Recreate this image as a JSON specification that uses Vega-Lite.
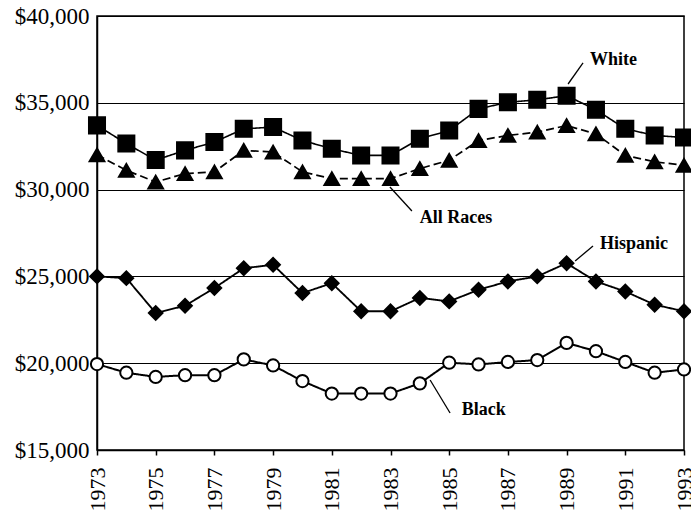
{
  "$schema": "https://vega.github.io/schema/vega-lite/v6.json",
  "width": 587,
  "height": 434,
  "autosize": "none",
  "padding": {"left": 97, "top": 16, "right": 7, "bottom": 69},
  "background": "white",
  "config": {
    "view": {"stroke": "black", "strokeWidth": 1.5},
    "font": "Liberation Serif",
    "axis": {
      "labelFont": "Liberation Serif",
      "labelColor": "black",
      "domainColor": "black",
      "tickColor": "black",
      "gridColor": "black",
      "title": null
    }
  },
  "datasets": {
    "income": [
      {"year": 1973, "series": "White", "value": 33700},
      {"year": 1974, "series": "White", "value": 32650},
      {"year": 1975, "series": "White", "value": 31700},
      {"year": 1976, "series": "White", "value": 32260},
      {"year": 1977, "series": "White", "value": 32740},
      {"year": 1978, "series": "White", "value": 33500},
      {"year": 1979, "series": "White", "value": 33600},
      {"year": 1980, "series": "White", "value": 32830},
      {"year": 1981, "series": "White", "value": 32350},
      {"year": 1982, "series": "White", "value": 31970},
      {"year": 1983, "series": "White", "value": 31970},
      {"year": 1984, "series": "White", "value": 32930},
      {"year": 1985, "series": "White", "value": 33400},
      {"year": 1986, "series": "White", "value": 34650},
      {"year": 1987, "series": "White", "value": 35030},
      {"year": 1988, "series": "White", "value": 35170},
      {"year": 1989, "series": "White", "value": 35410},
      {"year": 1990, "series": "White", "value": 34600},
      {"year": 1991, "series": "White", "value": 33500},
      {"year": 1992, "series": "White", "value": 33120},
      {"year": 1993, "series": "White", "value": 33000},
      {"year": 1973, "series": "All Races", "value": 32000},
      {"year": 1974, "series": "All Races", "value": 31110},
      {"year": 1975, "series": "All Races", "value": 30440},
      {"year": 1976, "series": "All Races", "value": 30920},
      {"year": 1977, "series": "All Races", "value": 31020},
      {"year": 1978, "series": "All Races", "value": 32260},
      {"year": 1979, "series": "All Races", "value": 32160},
      {"year": 1980, "series": "All Races", "value": 31020},
      {"year": 1981, "series": "All Races", "value": 30630},
      {"year": 1982, "series": "All Races", "value": 30630},
      {"year": 1983, "series": "All Races", "value": 30630},
      {"year": 1984, "series": "All Races", "value": 31210},
      {"year": 1985, "series": "All Races", "value": 31690},
      {"year": 1986, "series": "All Races", "value": 32830},
      {"year": 1987, "series": "All Races", "value": 33120},
      {"year": 1988, "series": "All Races", "value": 33310},
      {"year": 1989, "series": "All Races", "value": 33690},
      {"year": 1990, "series": "All Races", "value": 33210},
      {"year": 1991, "series": "All Races", "value": 31970},
      {"year": 1992, "series": "All Races", "value": 31600},
      {"year": 1993, "series": "All Races", "value": 31400},
      {"year": 1973, "series": "Hispanic", "value": 25000},
      {"year": 1974, "series": "Hispanic", "value": 24900},
      {"year": 1975, "series": "Hispanic", "value": 22890},
      {"year": 1976, "series": "Hispanic", "value": 23310},
      {"year": 1977, "series": "Hispanic", "value": 24330},
      {"year": 1978, "series": "Hispanic", "value": 25470},
      {"year": 1979, "series": "Hispanic", "value": 25670},
      {"year": 1980, "series": "Hispanic", "value": 24040},
      {"year": 1981, "series": "Hispanic", "value": 24610},
      {"year": 1982, "series": "Hispanic", "value": 22990},
      {"year": 1983, "series": "Hispanic", "value": 22990},
      {"year": 1984, "series": "Hispanic", "value": 23760},
      {"year": 1985, "series": "Hispanic", "value": 23560},
      {"year": 1986, "series": "Hispanic", "value": 24230},
      {"year": 1987, "series": "Hispanic", "value": 24710},
      {"year": 1988, "series": "Hispanic", "value": 25000},
      {"year": 1989, "series": "Hispanic", "value": 25760},
      {"year": 1990, "series": "Hispanic", "value": 24710},
      {"year": 1991, "series": "Hispanic", "value": 24130},
      {"year": 1992, "series": "Hispanic", "value": 23370},
      {"year": 1993, "series": "Hispanic", "value": 22990},
      {"year": 1973, "series": "Black", "value": 19950},
      {"year": 1974, "series": "Black", "value": 19450},
      {"year": 1975, "series": "Black", "value": 19210},
      {"year": 1976, "series": "Black", "value": 19310},
      {"year": 1977, "series": "Black", "value": 19310},
      {"year": 1978, "series": "Black", "value": 20220},
      {"year": 1979, "series": "Black", "value": 19870},
      {"year": 1980, "series": "Black", "value": 18970},
      {"year": 1981, "series": "Black", "value": 18250},
      {"year": 1982, "series": "Black", "value": 18250},
      {"year": 1983, "series": "Black", "value": 18250},
      {"year": 1984, "series": "Black", "value": 18840},
      {"year": 1985, "series": "Black", "value": 20030},
      {"year": 1986, "series": "Black", "value": 19930},
      {"year": 1987, "series": "Black", "value": 20070},
      {"year": 1988, "series": "Black", "value": 20180},
      {"year": 1989, "series": "Black", "value": 21170},
      {"year": 1990, "series": "Black", "value": 20690},
      {"year": 1991, "series": "Black", "value": 20070},
      {"year": 1992, "series": "Black", "value": 19450},
      {"year": 1993, "series": "Black", "value": 19640}
    ],
    "labels": [
      {"label": "White", "year": 1989.8, "value": 37465},
      {"label": "All Races", "year": 1984.0, "value": 28364},
      {"label": "Hispanic", "year": 1990.14, "value": 26866},
      {"label": "Black", "year": 1985.43, "value": 17304}
    ],
    "leaders": [
      {"label": "White", "year": 1989.05, "value": 36083, "year2": 1989.56, "value2": 37293},
      {"label": "All Races", "year": 1982.98, "value": 30150, "year2": 1983.73, "value2": 28767},
      {"label": "Hispanic", "year": 1989.29, "value": 25887, "year2": 1989.9, "value2": 26751},
      {"label": "Black", "year": 1984.35, "value": 19032, "year2": 1985.03, "value2": 17131}
    ]
  },
  "layer": [
    {
      "data": {"name": "income"},
      "mark": {"type": "line", "color": "black"},
      "encoding": {
        "x": {
          "field": "year", "type": "quantitative",
          "scale": {"domain": [1973, 1993], "nice": false, "zero": false},
          "axis": {
            "values": [1973,1974,1975,1976,1977,1978,1979,1980,1981,1982,1983,1984,1985,1986,1987,1988,1989,1990,1991,1992,1993],
            "labelExpr": "(datum.value - 1973) % 2 == 0 ? format(datum.value, 'd') : ''",
            "labelAngle": -90,
            "labelAlign": "right",
            "labelBaseline": "middle",
            "labelFontSize": 22,
            "labelPadding": 12,
            "tickSize": 5,
            "tickWidth": 1.5,
            "domainWidth": 1.5,
            "grid": false,
            "labelOverlap": false
          }
        },
        "y": {
          "field": "value", "type": "quantitative",
          "scale": {"domain": [15000, 40000], "nice": false, "zero": false},
          "axis": {
            "values": [15000, 20000, 25000, 30000, 35000, 40000],
            "format": "$,d",
            "labelFontSize": 23,
            "labelPadding": 8,
            "tickSize": 0,
            "domainWidth": 1.5,
            "grid": true,
            "gridWidth": 1.2,
            "gridOpacity": 1
          }
        },
        "detail": {"field": "series"},
        "strokeDash": {
          "field": "series", "type": "nominal",
          "scale": {"domain": ["White", "All Races", "Hispanic", "Black"], "range": [[1, 0], [8, 4], [1, 0], [1, 0]]},
          "legend": null
        },
        "strokeWidth": {
          "field": "series", "type": "nominal",
          "scale": {"domain": ["White", "All Races", "Hispanic", "Black"], "range": [1.6, 2, 4.5, 2.8]},
          "legend": null
        }
      }
    },
    {
      "data": {"name": "income"},
      "mark": {"type": "point", "filled": true, "stroke": "black", "opacity": 1},
      "encoding": {
        "x": {"field": "year", "type": "quantitative"},
        "y": {"field": "value", "type": "quantitative"},
        "shape": {
          "field": "series", "type": "nominal",
          "scale": {"domain": ["White", "All Races", "Hispanic", "Black"], "range": ["square", "triangle-up", "diamond", "circle"]},
          "legend": null
        },
        "size": {
          "field": "series", "type": "nominal",
          "scale": {"domain": ["White", "All Races", "Hispanic", "Black"], "range": [270, 150, 55, 70]},
          "legend": null
        },
        "fill": {
          "field": "series", "type": "nominal",
          "scale": {"domain": ["White", "All Races", "Hispanic", "Black"], "range": ["black", "black", "black", "white"]},
          "legend": null
        },
        "strokeWidth": {
          "field": "series", "type": "nominal",
          "scale": {"domain": ["White", "All Races", "Hispanic", "Black"], "range": [0, 0, 0, 2.4]},
          "legend": null
        }
      }
    },
    {
      "data": {"name": "leaders"},
      "mark": {"type": "rule", "color": "black", "strokeWidth": 1.3},
      "encoding": {
        "x": {"field": "year", "type": "quantitative"},
        "y": {"field": "value", "type": "quantitative"},
        "x2": {"field": "year2"},
        "y2": {"field": "value2"}
      }
    },
    {
      "data": {"name": "labels"},
      "mark": {"type": "text", "align": "left", "baseline": "middle", "font": "Liberation Serif", "fontSize": 18, "fontWeight": "bold", "color": "black"},
      "encoding": {
        "x": {"field": "year", "type": "quantitative"},
        "y": {"field": "value", "type": "quantitative"},
        "text": {"field": "label"}
      }
    }
  ]
}
